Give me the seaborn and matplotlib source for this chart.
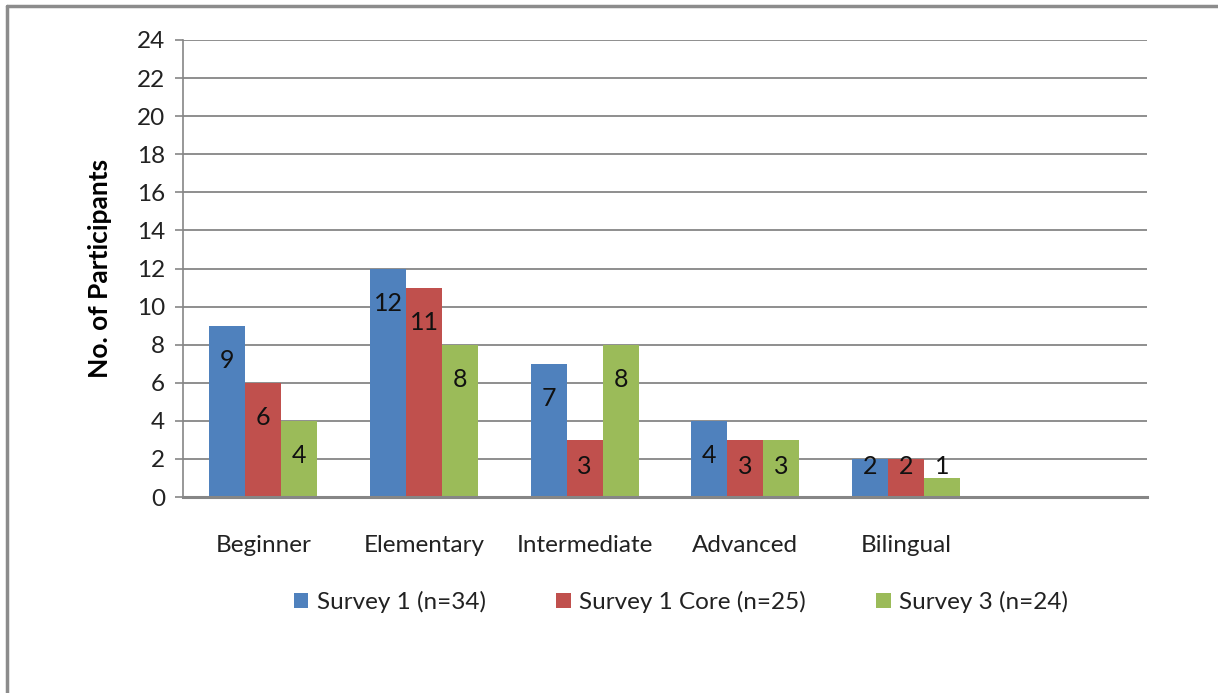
import matplotlib
matplotlib.use("Agg")
import matplotlib.pyplot as plt
import seaborn as sns
import pandas as pd
from matplotlib.lines import Line2D

categories = ["Beginner", "Elementary", "Intermediate", "Advanced", "Bilingual"]
series_names = ["Survey 1 (n=34)", "Survey 1 Core (n=25)", "Survey 3 (n=24)"]
survey1 = [9, 12, 7, 4, 2]
survey1_core = [6, 11, 3, 3, 2]
survey3 = [4, 8, 8, 3, 1]
y_ticks = list(range(0, 25, 2))
colors = ["#4F81BD", "#C0504D", "#9BBB59"]

rows = []
for name, vals in zip(series_names, [survey1, survey1_core, survey3]):
    for c, v in zip(categories, vals):
        rows.append({"Level": c, "Series": name, "Count": v})
df = pd.DataFrame(rows)

sns.set_theme(style="white")
plt.rcParams["font.family"] = ["Lato", "DejaVu Sans"]

fig = plt.figure(figsize=(12.18, 6.93), dpi=100)
ax = fig.add_axes([183/1218, 1-497/693, (1147-183)/1218, (497-40)/693])

sns.barplot(data=df, x="Level", y="Count", hue="Series", order=categories,
            hue_order=series_names, palette=colors, width=0.672,
            linewidth=0, saturation=1, ax=ax)

ax.set_xlim(-0.5, 5.5)
ax.set_ylim(0, 24)
ax.set_yticks(y_ticks)
ax.set_yticklabels([str(t) for t in y_ticks], fontsize=17.5, color="#222222")
ax.set_xlabel("")
ax.set_ylabel("No. of Participants", fontsize=19, fontweight="bold",
              color="black", labelpad=18)
ax.tick_params(axis="x", length=0, pad=27, labelsize=17.5, labelcolor="#222222")
ax.tick_params(axis="y", length=6, width=1.2, color="#868686", pad=7,
               direction="out", left=True)
ax.yaxis.grid(True, color="#868686", linewidth=1.3)
ax.set_axisbelow(True)
for s in ["top", "right"]:
    ax.spines[s].set_visible(False)
ax.spines["left"].set_color("#868686")
ax.spines["left"].set_linewidth(1.2)
ax.spines["bottom"].set_color("#868686")
ax.spines["bottom"].set_linewidth(2.2)

# data labels inside bar tops
units_per_px = 24 / (497 - 40)
for cont in ax.containers:
    for p in cont:
        h = p.get_height()
        xc = p.get_x() + p.get_width() / 2
        yl = max(h - 35 * units_per_px, 30 * units_per_px)
        ax.text(xc, yl, f"{int(round(h))}", ha="center", va="center",
                fontsize=18, color="#111111")

handles, labels = ax.get_legend_handles_labels()
if ax.legend_ is not None:
    ax.legend_.remove()
fig.legend(handles, labels, loc="center", bbox_to_anchor=(681/1218, 1-602/693),
           ncol=3, frameon=False, fontsize=17.5, handlelength=0.6,
           handleheight=0.6, handletextpad=0.35, columnspacing=2.9,
           labelcolor="#222222")

# outer border (left and top)
fig.add_artist(Line2D([7/1218, 7/1218], [0, 1-6/693], transform=fig.transFigure,
                      color="#8c8c8c", linewidth=2.5))
fig.add_artist(Line2D([7/1218, 1], [1-6/693, 1-6/693], transform=fig.transFigure,
                      color="#8c8c8c", linewidth=2.5))

fig.savefig("out.png", dpi=100)
